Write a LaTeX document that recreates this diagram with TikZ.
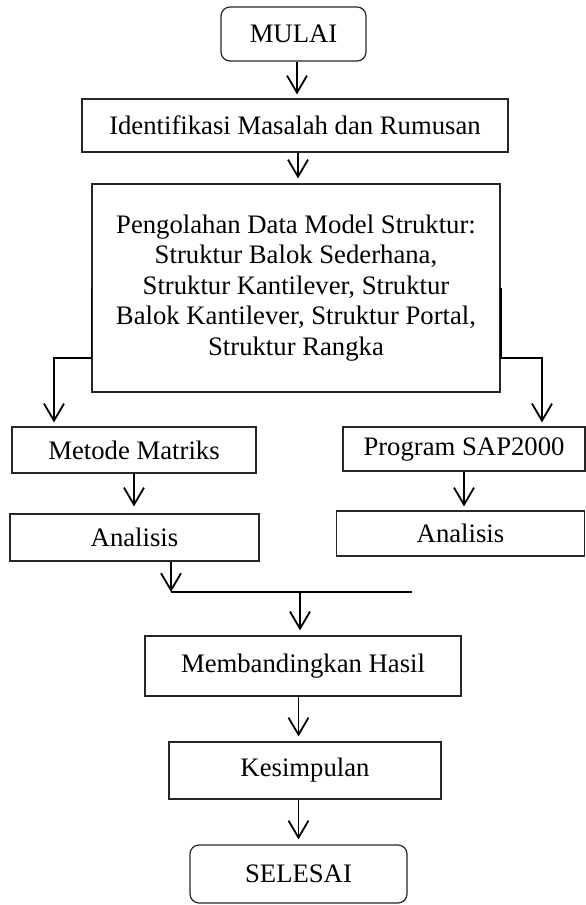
\documentclass[tikz,border=0pt]{standalone}
\usepackage{fontspec}
\setmainfont{Liberation Serif}
\usetikzlibrary{arrows.meta}
\begin{document}
\begin{tikzpicture}[x=1pt,y=-1pt,
 box/.style={draw=black!85,line width=1.2pt,inner sep=0pt,font=\fontsize{26.7}{30.5}\selectfont,align=center},
 rbox/.style={box,rounded corners=9pt},
 conn/.style={line width=1.8pt},
 arr/.style={conn,-{Straight Barb[length=17pt,width=20pt,line width=1.8pt]}},
]
\useasboundingbox (0,0) rectangle (586,905);
\node[rbox,minimum width=145pt,minimum height=54pt] (mulai) at (293.5,34) {MULAI};
\node[box,minimum width=426pt,minimum height=53pt] (ident) at (295,125.5) {Identifikasi Masalah dan Rumusan};
\node[box,minimum width=408pt,minimum height=208pt] (olah) at (296,288) {Pengolahan Data Model Struktur:\\Struktur Balok Sederhana,\\Struktur Kantilever, Struktur\\Balok Kantilever, Struktur Portal,\\Struktur Rangka};
\node[box,minimum width=244pt,minimum height=46pt] (metode) at (134,450) {Metode Matriks};
\node[box,minimum width=242pt,minimum height=44pt] (prog) at (464,449) {Program SAP2000};
\node[box,minimum width=249pt,minimum height=47pt] (anL) at (134.5,537.5) {Analisis};
\node[box,minimum width=248pt,minimum height=45pt] (anR) at (460.5,533.5) {Analisis};
\node[box,minimum width=316pt,minimum height=60pt] (band) at (303,666) {Membandingkan Hasil};
\node[box,minimum width=272pt,minimum height=57pt] (kes) at (305,770.5) {Kesimpulan};
\node[rbox,minimum width=217pt,minimum height=58pt] (sel) at (298.5,874) {SELESAI};
\coordinate (lb) at (54,358);
\coordinate (rb) at (542,358);
\coordinate (m1) at (171,592);
\coordinate (m2) at (412,592);
\coordinate (mm) at (300,592);
\coordinate (a1) at (297,0);
\coordinate (a2) at (298,0);
\draw[arr,shorten >=4pt] (a1 |- mulai.south) -- (a1 |- ident.north);
\draw[arr,shorten >=5pt] (a2 |- ident.south) -- (a2 |- olah.north);
\draw[arr,shorten >=4pt] (olah.west) -- (olah.west |- lb) -- (lb) -- (lb |- metode.north);
\draw[arr,shorten >=4pt] (olah.east) -- (olah.east |- rb) -- (rb) -- (rb |- prog.north);
\draw[arr,shorten >=7pt] (metode.south) -- (metode.south |- anL.north);
\draw[arr,shorten >=4pt] (prog.south) -- (prog.south |- anR.north);
\draw[arr] (anL.south -| m1) -- (m1);
\draw[conn] (m1) -- (m2);
\draw[arr,shorten >=5pt] (mm) -- (mm |- band.north);
\draw[arr,shorten >=5pt] (band.south -| sel.north) -- (kes.north -| sel.north);
\draw[arr,shorten >=5pt] (kes.south -| sel.north) -- (sel.north);
\end{tikzpicture}
\end{document}
